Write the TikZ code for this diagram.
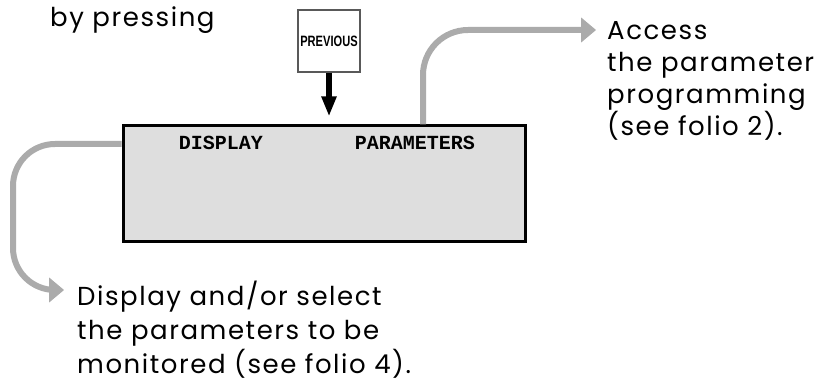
\documentclass[tikz,border=0pt]{standalone}
\usepackage{fontspec}
\usepackage{graphicx}
\setmainfont{Poppins}[LetterSpace=6]
\newfontfamily\lcdfont{Liberation Mono}
\newfontfamily\keyfont{Liberation Sans}
\definecolor{lcdgray}{HTML}{DEDEDE}
\definecolor{feedgray}{HTML}{ABABAB}
\usetikzlibrary{arrows.meta, positioning, calc}

\begin{document}
\begin{tikzpicture}[
  x=1pt, y=1pt,
  note/.style={align=left, inner sep=0pt, font=\fontsize{26}{32}\selectfont},
  lcd/.style={draw, line width=3pt, fill=lcdgray, minimum width=402pt, minimum height=116pt},
  lcdtext/.style={font=\lcdfont\bfseries\fontsize{20}{22}\selectfont},
  keybox/.style={draw=gray!70!black, line width=1.2pt, fill=white, minimum width=62pt, minimum height=62pt, inner sep=0pt},
  press/.style={line width=6pt, -{Triangle[width=14pt, length=20pt]}},
  feed/.style={feedgray, line width=6pt},
  feedtip/.style={feedgray, line width=1pt, -{Triangle[width=25pt, length=15pt]}}
]
  \useasboundingbox (0,0) rectangle (814,-382);

  \node[note, anchor=base west] (pressing) at (50,-27) {by pressing};

  \node[keybox] (previous) at (329,-41) {\keyfont\bfseries\fontsize{15}{15}\selectfont\scalebox{0.74}[1]{PREVIOUS}};

  \node[lcd] (display) at (324,-184) {};
  \node[lcdtext] (lcdleft) at (221,-143) {DISPLAY};
  \node[lcdtext] (lcdright) at (415,-143) {PARAMETERS};

  \node[note, anchor=north west] (access) at (607,-21) {Access\\the parameter\\programming\\(see folio 2).};
  \node[note, anchor=north west, font=\fontsize{26}{34}\selectfont] (monitor) at (77,-281) {Display and/or select\\the parameters to be\\monitored (see folio 4).};

  \coordinate (accessin) at (596,-30);
  \coordinate (bend) at (13,-290);
  \coordinate (monitorin) at (64,-290);

  % key press into the display
  \draw[press, shorten >=8pt] (previous.south) -- (previous.south |- display.north);

  % branches, tips drawn apart
  \draw[feed, rounded corners=45pt] ([xshift=99pt]display.north) |- ($(accessin)+(-12,0)$);
  \draw[feed, rounded corners=42pt] ([yshift=40pt]display.west) -| (bend) -- ($(monitorin)+(-12,0)$);
  \draw[feedtip] ($(accessin)+(-17,0)$) -- (accessin);
  \draw[feedtip] ($(monitorin)+(-17,0)$) -- (monitorin);
\end{tikzpicture}
\end{document}
